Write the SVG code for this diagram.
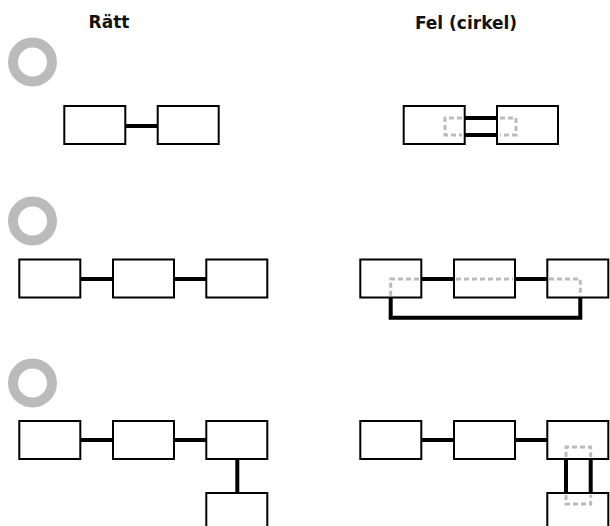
<svg xmlns="http://www.w3.org/2000/svg" width="610" height="526" viewBox="0 0 610 526">
<style>
.box{fill:#fff;stroke:#000;stroke-width:2}
.ring{fill:none;stroke:#bbb;stroke-width:10}
.link{fill:none;stroke:#000;stroke-width:4}
.dot{fill:none;stroke:#bbb;stroke-width:3;stroke-dasharray:5 3}
.hdr{font-family:"DejaVu Sans",sans-serif;font-weight:bold;font-size:17px;fill:#111;text-anchor:middle}
</style>
<rect width="610" height="526" fill="#fff"/>
<g id="headers">
<text class="hdr" x="109" y="28">Rätt</text>
<text class="hdr" x="466" y="29">Fel (cirkel)</text>
</g>
<g id="rings">
<circle class="ring" cx="32.5" cy="62" r="19.5"/>
<circle class="ring" cx="32.5" cy="221" r="19.5"/>
<circle class="ring" cx="32.5" cy="383" r="19.5"/>
</g>
<g id="r1-ok-a"><rect class="box" x="64.3" y="106" width="61" height="38"/></g>
<g id="r1-ok-b"><rect class="box" x="157.7" y="106" width="61" height="38"/></g>
<g id="r1-bad-a"><rect class="box" x="403.7" y="106" width="61" height="38"/></g>
<g id="r1-bad-b"><rect class="box" x="497" y="106" width="61" height="38"/></g>
<g id="r2-ok-a"><rect class="box" x="19.3" y="259.5" width="61" height="38"/></g>
<g id="r2-ok-b"><rect class="box" x="113" y="259.5" width="61" height="38"/></g>
<g id="r2-ok-c"><rect class="box" x="206.3" y="259.5" width="61" height="38"/></g>
<g id="r2-bad-a"><rect class="box" x="360.3" y="259.5" width="61" height="38"/></g>
<g id="r2-bad-b"><rect class="box" x="454" y="259.5" width="61" height="38"/></g>
<g id="r2-bad-c"><rect class="box" x="547.3" y="259.5" width="61" height="38"/></g>
<g id="r3-ok-a"><rect class="box" x="19.3" y="421" width="61" height="38"/></g>
<g id="r3-ok-b"><rect class="box" x="113" y="421" width="61" height="38"/></g>
<g id="r3-ok-c"><rect class="box" x="206.3" y="421" width="61" height="38"/></g>
<g id="r3-ok-d"><rect class="box" x="206.3" y="493" width="61" height="38"/></g>
<g id="r3-bad-a"><rect class="box" x="360.3" y="421" width="61" height="38"/></g>
<g id="r3-bad-b"><rect class="box" x="454" y="421" width="61" height="38"/></g>
<g id="r3-bad-c"><rect class="box" x="547.3" y="421" width="61" height="38"/></g>
<g id="r3-bad-d"><rect class="box" x="547.3" y="493" width="61" height="38"/></g>
<g id="connectors">
<path class="dot" d="M462,118 H445 V135 H462"/>
<path class="dot" d="M500,118 H516 V135 H500"/>
<path class="dot" d="M419,279 H390.7 V296"/>
<path class="dot" d="M456,279 H513"/>
<path class="dot" d="M549,279 H580.3 V296"/>
<path class="dot" d="M566,457 V447 H590.7 V457"/>
<path class="dot" d="M566,495 V504 H590.7 V495"/>
<line class="link" x1="126" y1="126" x2="157" y2="126"/>
<line class="link" x1="465" y1="118" x2="497" y2="118"/>
<line class="link" x1="465" y1="135" x2="497" y2="135"/>
<line class="link" x1="81" y1="279" x2="112" y2="279"/>
<line class="link" x1="174" y1="279" x2="206" y2="279"/>
<line class="link" x1="422" y1="279" x2="454" y2="279"/>
<line class="link" x1="515" y1="279" x2="547" y2="279"/>
<path class="link" d="M390.7,298 V317.7 H580.3 V298"/>
<line class="link" x1="81" y1="440" x2="112" y2="440"/>
<line class="link" x1="174" y1="440" x2="206" y2="440"/>
<line class="link" x1="237.3" y1="460" x2="237.3" y2="492"/>
<line class="link" x1="422" y1="440" x2="454" y2="440"/>
<line class="link" x1="515" y1="440" x2="547" y2="440"/>
<line class="link" x1="566" y1="460" x2="566" y2="492"/>
<line class="link" x1="590.7" y1="460" x2="590.7" y2="492"/>
</g>
</svg>
